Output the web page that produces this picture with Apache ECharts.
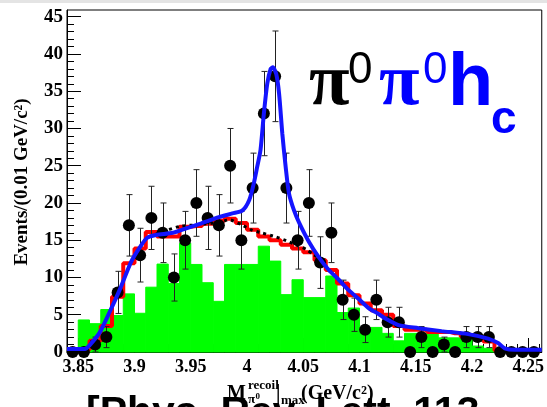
<!DOCTYPE html>
<html>
<head>
<meta charset="utf-8">
<title>pi0 pi0 hc recoil mass</title>
<script src="https://cdn.jsdelivr.net/npm/echarts@6.0.0/dist/echarts.min.js"></script>
<style>
  html, body { margin: 0; padding: 0; background: #ffffff; }
  #chart { width: 547px; height: 407px; }
</style>
</head>
<body>
<div id="chart"></div>
<script>
// Bin centres of the 0.01 GeV/c^2 histogram (3.84 - 4.26)
const binCenters = [
  3.845, 3.855, 3.865, 3.875, 3.885, 3.895, 3.905, 3.915, 3.925, 3.935,
  3.945, 3.955, 3.965, 3.975, 3.985, 3.995, 4.005, 4.015, 4.025, 4.035,
  4.045, 4.055, 4.065, 4.075, 4.085, 4.095, 4.105, 4.115, 4.125, 4.135,
  4.145, 4.155, 4.165, 4.175, 4.185, 4.195, 4.205, 4.215, 4.225, 4.235,
  4.245, 4.255
];
const binWidth = 0.01;

// Observed events per bin
const dataCounts = [
  0, 0, 1, 2, 8, 17, 13, 18, 16, 10,
  15, 20, 18, 17, 25, 15, 22, 32, 37, 22,
  15, 20, 12, 16, 7, 5, 3, 7, 4, 4,
  0, 2, 0, 1, 0, 2, 2, 2, 0, 0,
  0, 0
];

// Sideband (green filled) histogram
const sidebandCounts = [
  0, 4.3, 3.8, 5.7, 4.9, 7.8, 5.2, 8.7, 11.8, 9.2,
  14.6, 11.75, 9.3, 6.8, 11.75, 11.75, 11.75, 14.2, 12.2, 7.7,
  9.7, 7.3, 7.3, 10.2, 5.3, 5.9, 3.3, 3.3, 2.5, 1.5,
  2.5, 2.5, 2.5, 1.9, 1.9, 1.9, 0.8, 0.5, 0, 0,
  0, 0
];

// Background histogram (red steps)
const bkgHistCounts = [
  0, 0.3, 1.5, 3.5, 7.4, 11.9, 13.9, 16.1, 15.5, 15.5,
  16.8, 16.9, 17.2, 17.6, 17.9, 17.3, 16.4, 15.5, 15.0, 14.4,
  13.9, 13.4, 12.3, 11.0, 9.2, 7.6, 6.5, 5.6, 5.0, 3.5,
  3.0, 3.0, 2.7, 2.7, 2.5, 2.05, 2.05, 1.4, 0.2, 0.1,
  0.1, 0.1
];

// Total fit curve (blue)
const fitX = [
  3.840, 3.856, 3.860, 3.869, 3.878, 3.887, 3.897, 3.905, 3.911, 3.919,
  3.934, 3.946, 3.958, 3.975, 3.987, 3.996, 4.002, 4.006, 4.009, 4.012,
  4.015, 4.018, 4.021, 4.023, 4.026, 4.0285, 4.0314, 4.0344, 4.0373, 4.0418,
  4.0462, 4.055, 4.0639, 4.0727, 4.0816, 4.0904, 4.0993, 4.1081, 4.117, 4.1229,
  4.1347, 4.1524, 4.173, 4.1966, 4.2143, 4.2232, 4.2291, 4.238, 4.262
];
const fitY = [
  0.4, 0.4, 0.9, 2.6, 5.4, 8.4, 12.1, 14.1, 15.3, 15.7,
  16.0, 16.6, 17.2, 18.1, 18.6, 19.0, 20.4, 22.6, 24.8, 27.1,
  32, 36, 38, 38.2, 37.3, 34.7, 29.3, 24.8, 21.3, 19.0,
  17.4, 14.8, 12.7, 11.0, 9.7, 8.3, 7.1, 5.9, 5.1, 4.5,
  3.6, 3.2, 2.8, 2.4, 1.8, 1.2, 0.5, 0.3, 0.3
];

// Smooth background curve (black dotted)
const bkgCurveX = [
  3.905, 3.911, 3.9223, 3.94, 3.9577, 3.9754, 3.9842, 3.9949, 4.0037, 4.0126,
  4.0258, 4.0373, 4.0462, 4.0524, 4.0588, 4.0639, 4.0727, 4.0816
];
const bkgCurveY = [
  14.1, 15.3, 16.0, 16.85, 17.1, 17.4, 17.75, 17.1, 16.4, 16.0,
  15.45, 14.8, 14.2, 13.8, 13.1, 12.6, 11.0, 9.7
];

// Axis ticks
const xTickLabels = [3.85, 3.9, 3.95, 4, 4.05, 4.1, 4.15, 4.2, 4.25];
const yTickLabels = [0, 5, 10, 15, 20, 25, 30, 35, 40, 45];
const xRange = [3.84, 4.262];
const yRange = [0, 45.9];

const xMinorTicks = [];
for (let i = 0; i <= 42; i++) xMinorTicks.push(Math.round((3.84 + i * 0.01) * 100) / 100);
const yMinorTicks = [];
for (let v = 0; v <= 45; v++) yMinorTicks.push(v);

const serif = 'Liberation Serif';
const sans = 'Liberation Sans';

const sidebandData = binCenters.map((c, i) => [c - binWidth / 2, c + binWidth / 2, sidebandCounts[i]]);
const bkgHistData = [[xRange[0], bkgHistCounts[0]]]
  .concat(binCenters.map((c, i) => [c, bkgHistCounts[i]]))
  .concat([[4.26, bkgHistCounts[bkgHistCounts.length - 1]]]);
const pointData = binCenters.map((c, i) => [c, dataCounts[i]]);
const errorData = binCenters
  .map((c, i) => [c, dataCounts[i], Math.sqrt(dataCounts[i])])
  .filter(d => d[1] > 0);
const fitData = fitX.map((x, i) => [x, fitY[i]]);
const bkgCurveData = bkgCurveX.map((x, i) => [x, bkgCurveY[i]]);

const chart = echarts.init(document.getElementById('chart'), null, { renderer: 'canvas' });

const tickLabelStyle = { color: '#000', fontFamily: serif, fontWeight: 'bold', fontSize: 18 };

function txt(x, y, text, size, family, color, extra) {
  return {
    type: 'text', x: x, y: y, z: 100,
    style: Object.assign({
      text: text, fontSize: size, fontFamily: family, fontWeight: 'bold',
      fill: color, align: 'left', verticalAlign: 'middle'
    }, extra || {})
  };
}

chart.setOption({
  animation: false,
  backgroundColor: '#ffffff',
  grid: {
    left: 67, right: 3, top: 10, bottom: 55,
    show: true, borderColor: '#000', borderWidth: 1, backgroundColor: 'transparent'
  },
  xAxis: [
    {
      type: 'value', min: xRange[0], max: xRange[1], position: 'bottom',
      axisLine: { show: true, onZero: false, lineStyle: { color: '#000', width: 1 } },
      axisTick: { show: true, inside: true, length: 14, customValues: xTickLabels, lineStyle: { color: '#000' } },
      axisLabel: Object.assign({ show: true, margin: 6, customValues: xTickLabels }, tickLabelStyle),
      splitLine: { show: false }
    },
    {
      type: 'value', min: xRange[0], max: xRange[1], position: 'bottom',
      axisLine: { show: false, onZero: false },
      axisTick: { show: true, inside: true, length: 8, customValues: xMinorTicks, lineStyle: { color: '#000' } },
      axisLabel: { show: false },
      splitLine: { show: false }
    }
  ],
  yAxis: [
    {
      type: 'value', min: yRange[0], max: yRange[1], position: 'left',
      axisLine: { show: true, onZero: false, lineStyle: { color: '#000', width: 1 } },
      axisTick: { show: true, inside: true, length: 14, customValues: yTickLabels, lineStyle: { color: '#000' } },
      axisLabel: Object.assign({ show: true, margin: 4, customValues: yTickLabels }, tickLabelStyle, { fontSize: 19 }),
      splitLine: { show: false }
    },
    {
      type: 'value', min: yRange[0], max: yRange[1], position: 'left',
      axisLine: { show: false, onZero: false },
      axisTick: { show: true, inside: true, length: 7, customValues: yMinorTicks, lineStyle: { color: '#000' } },
      axisLabel: { show: false },
      splitLine: { show: false }
    }
  ],
  series: [
    {
      name: 'sideband', type: 'custom', z: 1,
      xAxisIndex: 0, yAxisIndex: 0,
      data: sidebandData,
      encode: { x: [0, 1], y: 2 },
      renderItem: function (params, api) {
        const a = api.coord([api.value(0), api.value(2)]);
        const b = api.coord([api.value(1), 0]);
        return {
          type: 'rect',
          shape: { x: a[0], y: a[1], width: b[0] - a[0], height: b[1] - a[1] },
          style: { fill: '#00ff00', stroke: '#00ff00', lineWidth: 1 }
        };
      }
    },
    {
      name: 'bkgHist', type: 'line', z: 2, step: 'middle',
      xAxisIndex: 0, yAxisIndex: 0,
      data: bkgHistData, showSymbol: false,
      lineStyle: { color: '#ff0000', width: 4 }
    },
    {
      name: 'bkgCurve', type: 'line', z: 3, smooth: 0.2,
      xAxisIndex: 0, yAxisIndex: 0,
      data: bkgCurveData, showSymbol: false,
      lineStyle: { color: '#000', width: 3, type: [3, 4] }
    },
    {
      name: 'errors', type: 'custom', z: 4,
      xAxisIndex: 0, yAxisIndex: 0,
      data: errorData,
      encode: { x: 0, y: 1 },
      renderItem: function (params, api) {
        const x = api.value(0), n = api.value(1), e = api.value(2);
        const t = api.coord([x, n + e]);
        const b = api.coord([x, n - e]);
        const px = Math.round(t[0]) + 0.5;
        const st = { stroke: '#222', lineWidth: 1 };
        return {
          type: 'group',
          children: [
            { type: 'line', shape: { x1: px, y1: t[1], x2: px, y2: b[1] }, style: st },
            { type: 'line', shape: { x1: px - 3, y1: t[1], x2: px + 3, y2: t[1] }, style: st },
            { type: 'line', shape: { x1: px - 3, y1: b[1], x2: px + 3, y2: b[1] }, style: st }
          ]
        };
      }
    },
    {
      name: 'data', type: 'scatter', z: 5,
      xAxisIndex: 0, yAxisIndex: 0,
      data: pointData, symbol: 'circle', symbolSize: 12,
      itemStyle: { color: '#000', opacity: 1 }
    },
    {
      name: 'fit', type: 'line', z: 6, smooth: 0.25, clip: false,
      xAxisIndex: 0, yAxisIndex: 0,
      data: fitData, showSymbol: false,
      lineStyle: { color: '#1414ff', width: 4 }
    }
  ],
  graphic: [
    { type: 'rect', shape: { x: 0, y: 0, width: 547, height: 3 }, style: { fill: '#e4e4e4' }, z: 0 },
    // process label
    txt(309, 85, 'π', 74, serif, '#000'),
    txt(348, 71, '0', 44, sans, '#000', { fontWeight: 'normal' }),
    txt(379, 85, 'π', 74, serif, '#0000ff'),
    txt(423, 71, '0', 44, sans, '#0000ff', { fontWeight: 'normal' }),
    txt(448, 85, 'h', 74, sans, '#0000ff'),
    txt(491, 120, 'c', 46, sans, '#0000ff'),
    // y axis title
    {
      type: 'text', x: 22, y: 182, rotation: Math.PI / 2, z: 100,
      style: {
        text: 'Events/(0.01 GeV/c²)', fontSize: 19, fontFamily: serif, fontWeight: 'bold',
        fill: '#000', align: 'center', verticalAlign: 'middle'
      }
    },
    // reference line below the frame
    txt(86, 393, '[Phys. Rev. Lett. 113', 41, sans, '#000', { verticalAlign: 'top' }),
    // x axis title
    txt(227, 393.6, 'M', 20, serif, '#000'),
    txt(248, 386, 'recoil', 13, serif, '#000'),
    txt(248, 400, 'π', 13, serif, '#000'),
    txt(255.5, 397, '0', 9, serif, '#000'),
    txt(276, 393.6, '|', 20, serif, '#000'),
    txt(281, 401, 'max', 13, serif, '#000'),
    txt(301, 393.6, '(GeV/c²)', 20, serif, '#000')
  ]
});
</script>
</body>
</html>
